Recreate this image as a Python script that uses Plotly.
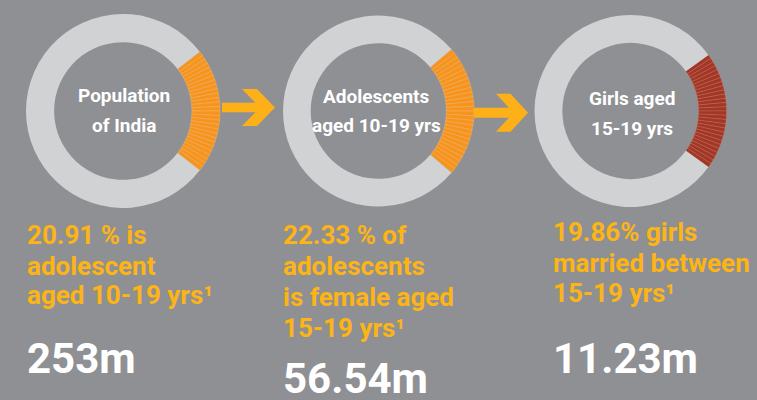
import plotly.graph_objects as go

# ---------------- data ----------------
shares_pct = [20.91, 22.33, 19.86]
center_labels = [["Population", "of India"],
                 ["Adolescents", "aged 10-19 yrs"],
                 ["Girls aged", "15-19 yrs"]]
desc_lines = [["20.91 % is", "adolescent", "aged 10-19 yrs¹"],
              ["22.33 % of", "adolescents", "is female aged", "15-19 yrs¹"],
              ["19.86% girls", "married between", "15-19 yrs¹"]]
big_numbers = ["253m", "56.54m", "11.23m"]

# ---------------- styling / layout ----------------
W, H = 757, 400
BG = "rgb(143,144,148)"
RING = "rgb(209,210,212)"
SEG_COLORS = ["rgb(247,148,29)", "rgb(247,148,29)", "rgb(163,54,37)"]
STRIPE_COLORS = ["rgba(253,200,140,0.6)", "rgba(253,200,140,0.6)", "rgba(210,130,115,0.6)"]
TEXT_YEL = "rgb(253,180,21)"
ARROW = "rgb(253,176,24)"
FONT = "Roboto, Liberation Sans, sans-serif"

donut_cx = [123, 378.5, 630.5]
donut_cy = [111, 111, 111]
donut_r = [97, 95.5, 96]
label_cx = [124, 376, 632]
label_y = [[95, 125], [96, 126], [98, 128]]
text_left = [25, 281, 551]
desc_y = [[235, 266, 295], [235, 266, 297, 328], [232, 263, 293]]
big_y = [358, 378, 358]
N_STRIPES = 28

fig = go.Figure()

for i, p in enumerate(shares_pct):
    cx, cy, r = donut_cx[i], donut_cy[i], donut_r[i]
    vals = [p / N_STRIPES] * N_STRIPES + [100 - p]
    colors = [SEG_COLORS[i]] * N_STRIPES + [RING]
    lcolors = [STRIPE_COLORS[i]] * N_STRIPES + [RING]
    lwidths = [0.5] * N_STRIPES + [0]
    fig.add_trace(go.Pie(
        values=vals,
        sort=False,
        direction="clockwise",
        rotation=90 - p * 1.8,
        hole=0.71,
        marker=dict(colors=colors, line=dict(color=lcolors, width=lwidths)),
        textinfo="none",
        hoverinfo="skip",
        showlegend=False,
        domain=dict(x=[(cx - r) / W, (cx + r) / W],
                    y=[1 - (cy + r) / H, 1 - (cy - r) / H]),
    ))

annotations = []
for i in range(3):
    for txt, y in zip(center_labels[i], label_y[i]):
        annotations.append(dict(
            x=label_cx[i] / W, y=1 - y / H, xref="paper", yref="paper",
            text=txt, showarrow=False, xanchor="center", yanchor="middle",
            font=dict(family=FONT, size=19, color="white", weight="bold")))
    for txt, y in zip(desc_lines[i], desc_y[i]):
        annotations.append(dict(
            x=text_left[i] / W, y=1 - y / H, xref="paper", yref="paper",
            text=txt, showarrow=False, xanchor="left", yanchor="middle",
            font=dict(family=FONT, size=26, color=TEXT_YEL, weight="bold")))
    annotations.append(dict(
        x=text_left[i] / W, y=1 - big_y[i] / H, xref="paper", yref="paper",
        text=big_numbers[i], showarrow=False, xanchor="left", yanchor="middle",
        font=dict(family=FONT, size=42, color="white", weight="bold")))


def arrow_path(x0, x_arm, x_tip, ymid, shaft_h, head_h, arm_w):
    top, bot = ymid - head_h / 2, ymid + head_h / 2
    st, sb = ymid - shaft_h / 2, ymid + shaft_h / 2
    slope = (x_tip - x_arm - arm_w) / (head_h / 2)
    xin_t = x_arm + (st - top) * slope
    xin_b = x_arm + (bot - sb) * slope
    pts = [(x0, st), (xin_t, st), (x_arm, top), (x_arm + arm_w, top), (x_tip, ymid),
           (x_arm + arm_w, bot), (x_arm, bot), (xin_b, sb), (x0, sb)]
    return "M " + " L ".join(f"{x / W:.5f},{1 - y / H:.5f}" for x, y in pts) + " Z"


shapes = [
    dict(type="path", xref="paper", yref="paper", line=dict(width=0), fillcolor=ARROW,
         path=arrow_path(222, 242, 275, 107.5, 9.5, 37, 15)),
    dict(type="path", xref="paper", yref="paper", line=dict(width=0), fillcolor=ARROW,
         path=arrow_path(474, 496, 528, 112.7, 10, 38, 14.5)),
]

fig.update_layout(
    width=W, height=H,
    margin=dict(l=0, r=0, t=0, b=0),
    paper_bgcolor=BG, plot_bgcolor=BG,
    annotations=annotations,
    shapes=shapes,
    showlegend=False,
)

fig.write_html("out.html", config={"displayModeBar": False},
               post_script="document.body.style.margin='0';")
